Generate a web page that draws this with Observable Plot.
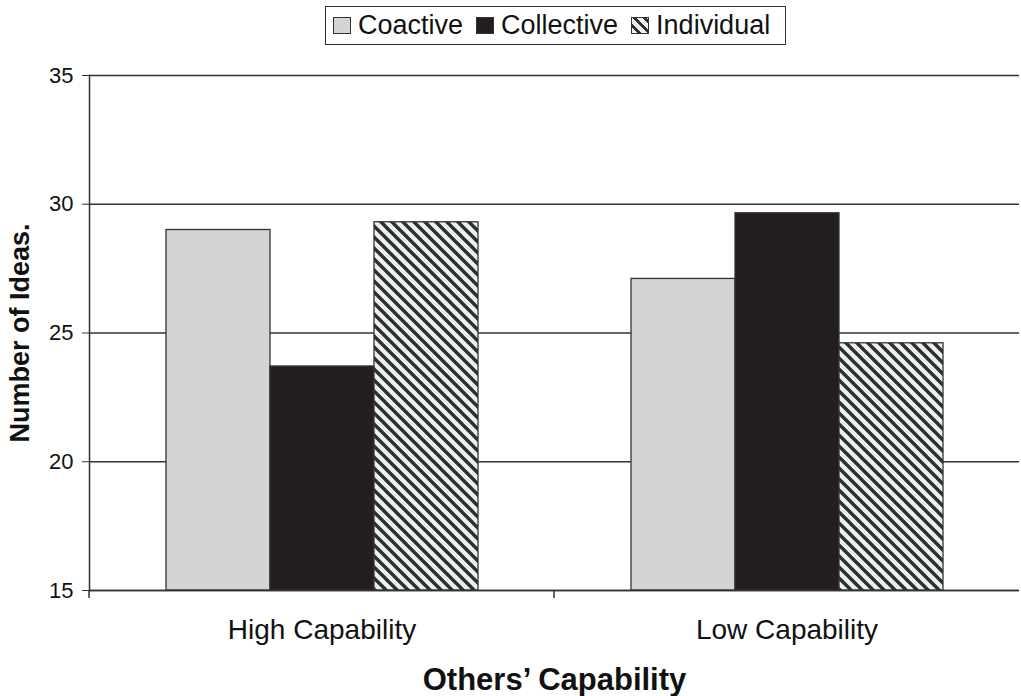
<!DOCTYPE html>
<html><head><meta charset="utf-8">
<script src="https://cdn.jsdelivr.net/npm/d3@7"></script>
<script src="https://cdn.jsdelivr.net/npm/@observablehq/plot@0.6"></script>
<style>
body{margin:0;background:#fff;font-family:Arial,"Liberation Sans",sans-serif;}
#wrap{position:relative;width:1021px;}
#legendRow{position:relative;height:50px;}
#legend{position:absolute;left:325px;top:6px;width:461px;height:39px;box-sizing:border-box;border:1.5px solid #333;display:flex;align-items:center;padding:0 0 0 7px;font-size:27px;color:#111;background:#fff;white-space:nowrap;}
.item{display:flex;align-items:center;margin-right:13px;}
.item:last-child{margin-right:0;}
.sw{width:18px;height:17px;box-sizing:border-box;border:1.5px solid #333;margin-right:7px;}
svg g[aria-label="y-axis label"] text{font-weight:bold;font-size:27px;}
svg g[aria-label="fx-axis label"] text{font-weight:bold;font-size:31px;}
</style>
</head><body>
<div id="wrap">
<div id="legendRow"><div id="legend"></div></div>
<div id="chart"></div>
</div>
<script>
const groups = ["High Capability", "Low Capability"];
const series = ["Coactive", "Collective", "Individual"];
const coactive = [29.0, 27.1];
const collective = [23.7, 29.65];
const individual = [29.3, 24.6];
const yTicks = [15, 20, 25, 30, 35];
const yLabel = "Number of Ideas.";
const xLabel = "Others’ Capability";

const fills = ["#d3d4d6", "#231f20", "url(#hatch)"];
const legendFills = ["#d3d4d6", "#231f20", "repeating-linear-gradient(45deg, #eef0f0 0 4px, #2b3131 4px 7px)"];

const valuesBySeries = [coactive, collective, individual];
const data = groups.flatMap((g, i) => series.map((s, j) => ({group: g, series: s, value: valuesBySeries[j][i]})));

// legend
const leg = d3.select("#legend");
series.forEach((s, j) => {
  const it = leg.append("div").attr("class", "item");
  it.append("div").attr("class", "sw").style("background", legendFills[j]);
  it.append("span").text(s);
});

const defs = () => {
  const d = d3.create("svg:defs");
  const p = d.append("pattern").attr("id", "hatch").attr("patternUnits", "userSpaceOnUse")
    .attr("width", 11).attr("height", 11);
  p.append("rect").attr("width", 11).attr("height", 11).attr("fill", "#eef0f0");
  p.append("path").attr("d", "M-3,-3L14,14M-3,8L3,14M8,-3L14,3")
    .attr("stroke", "#2b3131").attr("stroke-width", 3.4);
  return d.node();
};

const chart = Plot.plot({
  width: 1021,
  height: 646,
  marginTop: 25,
  marginLeft: 89,
  marginRight: 2,
  marginBottom: 106,
  style: {fontFamily: "Arial, 'Liberation Sans', sans-serif", fontSize: "22px", color: "#111", background: "white"},
  fx: {domain: groups, padding: 0},
  x: {domain: series, paddingInner: 0, paddingOuter: 0.735, axis: null},
  y: {domain: [yTicks[0], yTicks[yTicks.length - 1]]},
  color: {domain: series, range: fills},
  marks: [
    defs,
    Plot.gridY(yTicks, {stroke: "#333", strokeOpacity: 1, strokeWidth: 1.4}),
    Plot.barY(data, {fx: "group", x: "series", y1: yTicks[0], y2: "value", fill: "series", stroke: "#333", strokeWidth: 1.3}),
    Plot.ruleY([yTicks[0]], {stroke: "#333", strokeWidth: 1.5}),
    Plot.frame({anchor: "left", facetAnchor: "left", stroke: "#333", strokeWidth: 1.5}),
    Plot.axisY(yTicks, {tickSize: 7, tickPadding: 9, fontSize: 22, stroke: "#333", label: yLabel, labelAnchor: "center", labelOffset: 80, labelArrow: "none"}),
    Plot.axisFx({anchor: "bottom", tickSize: 0, tickPadding: 29, fontSize: 28, label: xLabel, labelAnchor: "center", labelOffset: 99, labelArrow: "none"})
  ]
});
document.getElementById("chart").appendChild(chart);

// boundary ticks between categories (from the library's scales)
const fx = chart.scale("fx");
const yS = chart.scale("y");
const y0 = yS.apply(yTicks[0]);
d3.select(chart).append("g").selectAll("line").data(groups).join("line")
  .attr("x1", d => fx.apply(d)).attr("x2", d => fx.apply(d))
  .attr("y1", y0).attr("y2", y0 + 8)
  .attr("stroke", "#333").attr("stroke-width", 1.5);
</script>
</body></html>
